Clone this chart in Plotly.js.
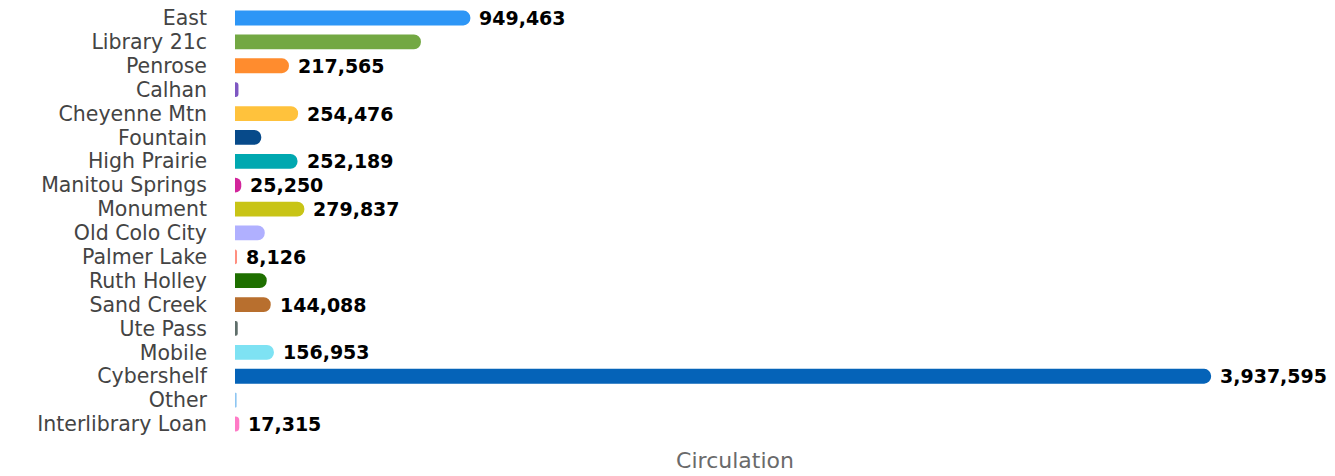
<!DOCTYPE html>
<html>
<head>
<meta charset="utf-8">
<script src="https://cdn.plot.ly/plotly-3.0.1.min.js"></script>
<style>html,body{margin:0;padding:0;background:#fff;}#chart{width:1335px;height:476px;}</style>
</head>
<body>
<div id="chart"></div>
<script>
const categories = ["East","Library 21c","Penrose","Calhan","Cheyenne Mtn","Fountain","High Prairie","Manitou Springs","Monument","Old Colo City","Palmer Lake","Ruth Holley","Sand Creek","Ute Pass","Mobile","Cybershelf","Other","Interlibrary Loan"];
const circulation = [949463, 750000, 217565, 14000, 254476, 106000, 252189, 25250, 279837, 120000, 8126, 128000, 144088, 11000, 156953, 3937595, 6500, 17315];
const showLabel = [true,false,true,false,true,false,true,true,true,false,true,false,true,false,true,true,false,true];
const colors = ["#2D96F6","#73A843","#FF8C2E","#7E57C2","#FFC23C","#074A8A","#00A8B0","#D2259B","#C8C416","#B0B0FF","#FF8F80","#1E6F00","#B86F2E","#5E6E6A","#7EE2F3","#0563B8","#8EC6F2","#FF7AC6"];

const fontFam = "'DejaVu Sans', sans-serif";

const trace = {
  type: 'bar',
  orientation: 'h',
  y: categories,
  x: circulation,
  marker: {color: colors},
  hoverinfo: 'x+y'
};

const annotations = categories.map((c, i) => showLabel[i] ? {
  x: circulation[i], y: c, xref: 'x', yref: 'y',
  text: '<b>' + circulation[i].toLocaleString('en-US') + '</b>',
  showarrow: false, xanchor: 'left', yanchor: 'middle', xshift: 7,
  font: {family: fontFam, size: 19, color: '#000'}
} : null).filter(a => a);

const layout = {
  width: 1335, height: 476,
  margin: {l: 235, r: 100, t: 5, b: 39},
  paper_bgcolor: '#fff', plot_bgcolor: '#fff',
  barcornerradius: 7,
  bargap: 0.38,
  showlegend: false,
  font: {family: fontFam},
  xaxis: {
    range: [0, 4034000],
    showticklabels: false, showgrid: false, zeroline: false, showline: false, ticks: '',
    title: {text: 'Circulation', font: {family: fontFam, size: 22, color: '#6a6a6a'}, standoff: 15}
  },
  yaxis: {
    autorange: 'reversed',
    tickmode: 'linear', tick0: 0, dtick: 1,
    showgrid: false, zeroline: false, showline: false, ticks: '',
    ticklabelstandoff: 27,
    tickfont: {family: fontFam, size: 20.5, color: '#444'}
  },
  annotations: annotations
};

Plotly.newPlot('chart', [trace], layout, {displayModeBar: false, staticPlot: true});
</script>
</body>
</html>
